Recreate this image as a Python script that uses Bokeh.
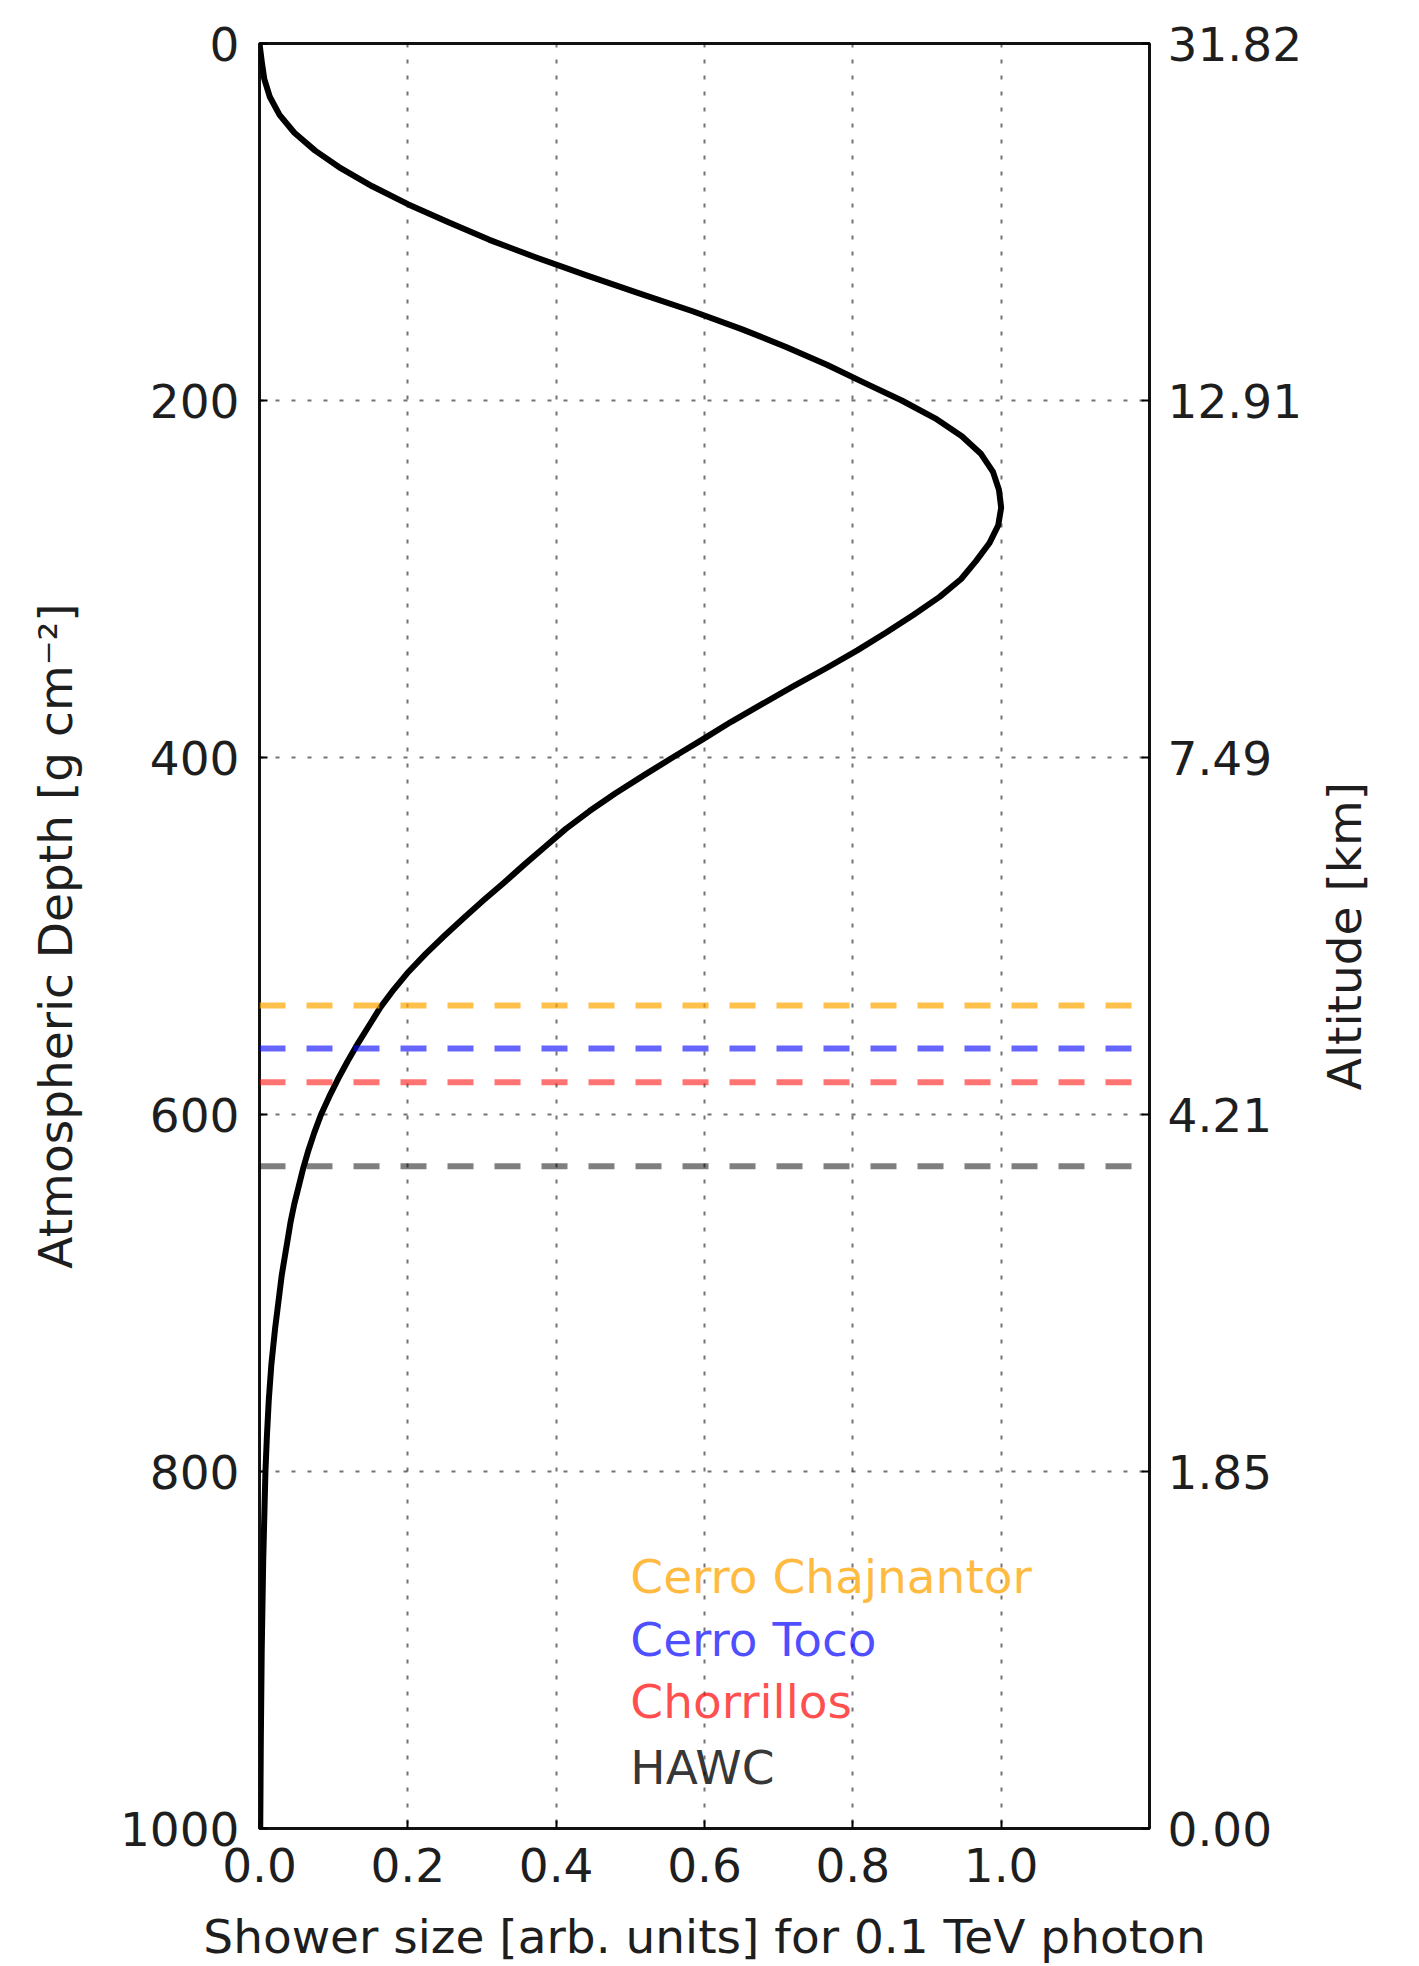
import math
from bokeh.plotting import figure
from bokeh.layouts import row
from bokeh.models import Range1d, LinearAxis, FixedTicker, Span
from bokeh.core.properties import value
from bokeh.embed import file_html
from bokeh.resources import INLINE

# ---- data ----
depth = [0, 10, 20, 30, 40, 50, 60, 70, 80, 90, 100, 110, 120, 130, 140, 150, 160,
         170, 180, 190, 200, 210, 220, 230, 240, 250, 260, 270, 280, 290, 300, 310,
         320, 330, 340, 350, 360, 370, 380, 390, 400, 410, 420, 430, 440, 450, 460,
         470, 480, 490, 500, 510, 520, 530, 540, 550, 560, 570, 580, 590, 600, 610,
         620, 630, 640, 650, 660, 670, 680, 690, 700, 720, 740, 760, 780, 800, 850,
         900, 950, 1000]
shower = [0.0, 0.003, 0.0065, 0.014, 0.027, 0.047, 0.075, 0.110, 0.152, 0.200, 0.254,
          0.310, 0.374, 0.442, 0.512, 0.584, 0.650, 0.710, 0.765, 0.815, 0.866, 0.911,
          0.947, 0.973, 0.989, 0.997, 1.000, 0.996, 0.984, 0.966, 0.946, 0.917, 0.882,
          0.845, 0.806, 0.764, 0.720, 0.678, 0.636, 0.597, 0.557, 0.518, 0.480, 0.445,
          0.413, 0.385, 0.357, 0.330, 0.302, 0.275, 0.249, 0.224, 0.201, 0.181, 0.163,
          0.148, 0.133, 0.119, 0.106, 0.094, 0.083, 0.074, 0.066, 0.059, 0.053, 0.047,
          0.042, 0.038, 0.034, 0.030, 0.027, 0.021, 0.016, 0.0125, 0.010, 0.008, 0.005,
          0.003, 0.0018, 0.001]

sites = ["Cerro Chajnantor", "Cerro Toco", "Chorrillos", "HAWC"]
site_depth = [539, 563, 582, 629]
site_line_colors = ["orange", "blue", "red", "black"]
site_line_alpha = [0.7, 0.6, 0.55, 0.5]
site_text_alpha = [0.75, 0.7, 0.7, 0.8]
label_x = 0.5
label_depth = [859, 894, 929, 966]

x_ticks = [0.0, 0.2, 0.4, 0.6, 0.8, 1.0]
y_ticks = [0, 200, 400, 600, 800, 1000]
alt_labels = ["31.82", "12.91", "7.49", "4.21", "1.85", "0.00"]
right_title = "Altitude [km]"

FONT = "DejaVu Sans"
FS = "47px"
TXT = "#1e1e1e"

W_MAIN, W_SIDE, H = 1319, 100, 1966
BORDER_TOP, BORDER_BOTTOM = 43, 137

y_range = Range1d(1000, 0)
p = figure(width=W_MAIN, height=H, output_backend="svg", toolbar_location=None,
           x_range=Range1d(0, 1.2), y_range=y_range,
           min_border_left=259, min_border_right=170, min_border_top=BORDER_TOP,
           min_border_bottom=BORDER_BOTTOM)
p.background_fill_color = "white"
p.border_fill_color = "white"
p.outline_line_color = "#111111"
p.outline_line_width = 3

# grid
for g in (p.xgrid, p.ygrid):
    g.grid_line_color = "black"
    g.grid_line_alpha = 0.55
    g.grid_line_width = 2
    g.grid_line_dash = "4 12"
p.xgrid.ticker = FixedTicker(ticks=x_ticks)
p.ygrid.ticker = FixedTicker(ticks=y_ticks)

def style_axis(ax):
    ax.axis_line_color = None
    ax.major_tick_in = 8
    ax.major_tick_out = 0
    ax.major_tick_line_color = "black"
    ax.major_tick_line_width = 2
    ax.minor_tick_line_color = None
    ax.major_label_text_font = FONT
    ax.major_label_text_font_size = FS
    ax.major_label_text_color = TXT
    ax.axis_label_text_font = FONT
    ax.axis_label_text_font_size = FS
    ax.axis_label_text_font_style = "normal"
    ax.axis_label_text_color = TXT

xa = p.xaxis[0]
style_axis(xa)
xa.ticker = FixedTicker(ticks=x_ticks)
xa.major_label_overrides = {t: f"{t:.1f}" for t in x_ticks}
xa.axis_label = "Shower size [arb. units] for 0.1 TeV photon"
xa.major_label_standoff = 19
xa.axis_label_standoff = 24

ya = p.yaxis[0]
style_axis(ya)
ya.ticker = FixedTicker(ticks=y_ticks)
ya.axis_label = "Atmospheric Depth [g cm\u207b\u00b2]"
ya.major_label_standoff = 20
ya.axis_label_standoff = 34

ra = LinearAxis(ticker=FixedTicker(ticks=y_ticks),
                major_label_overrides={t: s for t, s in zip(y_ticks, alt_labels)})
style_axis(ra)
ra.major_label_standoff = 18
p.add_layout(ra, "right")

# shower curve
p.line(shower, depth, line_color="black", line_width=6, line_join="round")

# site lines and labels
for name, d, c, la, ta, ld in zip(sites, site_depth, site_line_colors,
                                  site_line_alpha, site_text_alpha, label_depth):
    p.add_layout(Span(location=d, dimension="width", line_color=c, line_alpha=la,
                      line_width=6, line_dash="26 21"))
    p.text(x=[label_x], y=[ld], text=[name], text_color=c, text_alpha=ta,
           text_font=value(FONT), text_font_size=FS,
           text_baseline="alphabetic", text_align="left")

# narrow side panel carrying the right-hand axis title (reads bottom-to-top)
side = figure(width=W_SIDE, height=H, output_backend="svg", toolbar_location=None,
              x_range=Range1d(0, W_SIDE), y_range=y_range,
              min_border_left=0, min_border_right=0, min_border_top=BORDER_TOP,
              min_border_bottom=BORDER_BOTTOM)
side.axis.visible = False
side.grid.visible = False
side.outline_line_color = None
side.background_fill_color = "white"
side.border_fill_color = "white"
side.text(x=[25], y=[500], text=[right_title], angle=math.pi / 2,
          text_color=TXT, text_font=value(FONT), text_font_size=FS,
          text_align="center", text_baseline="middle")

layout = row(p, side, spacing=0)
open("out.html", "w").write(file_html(layout, INLINE))
